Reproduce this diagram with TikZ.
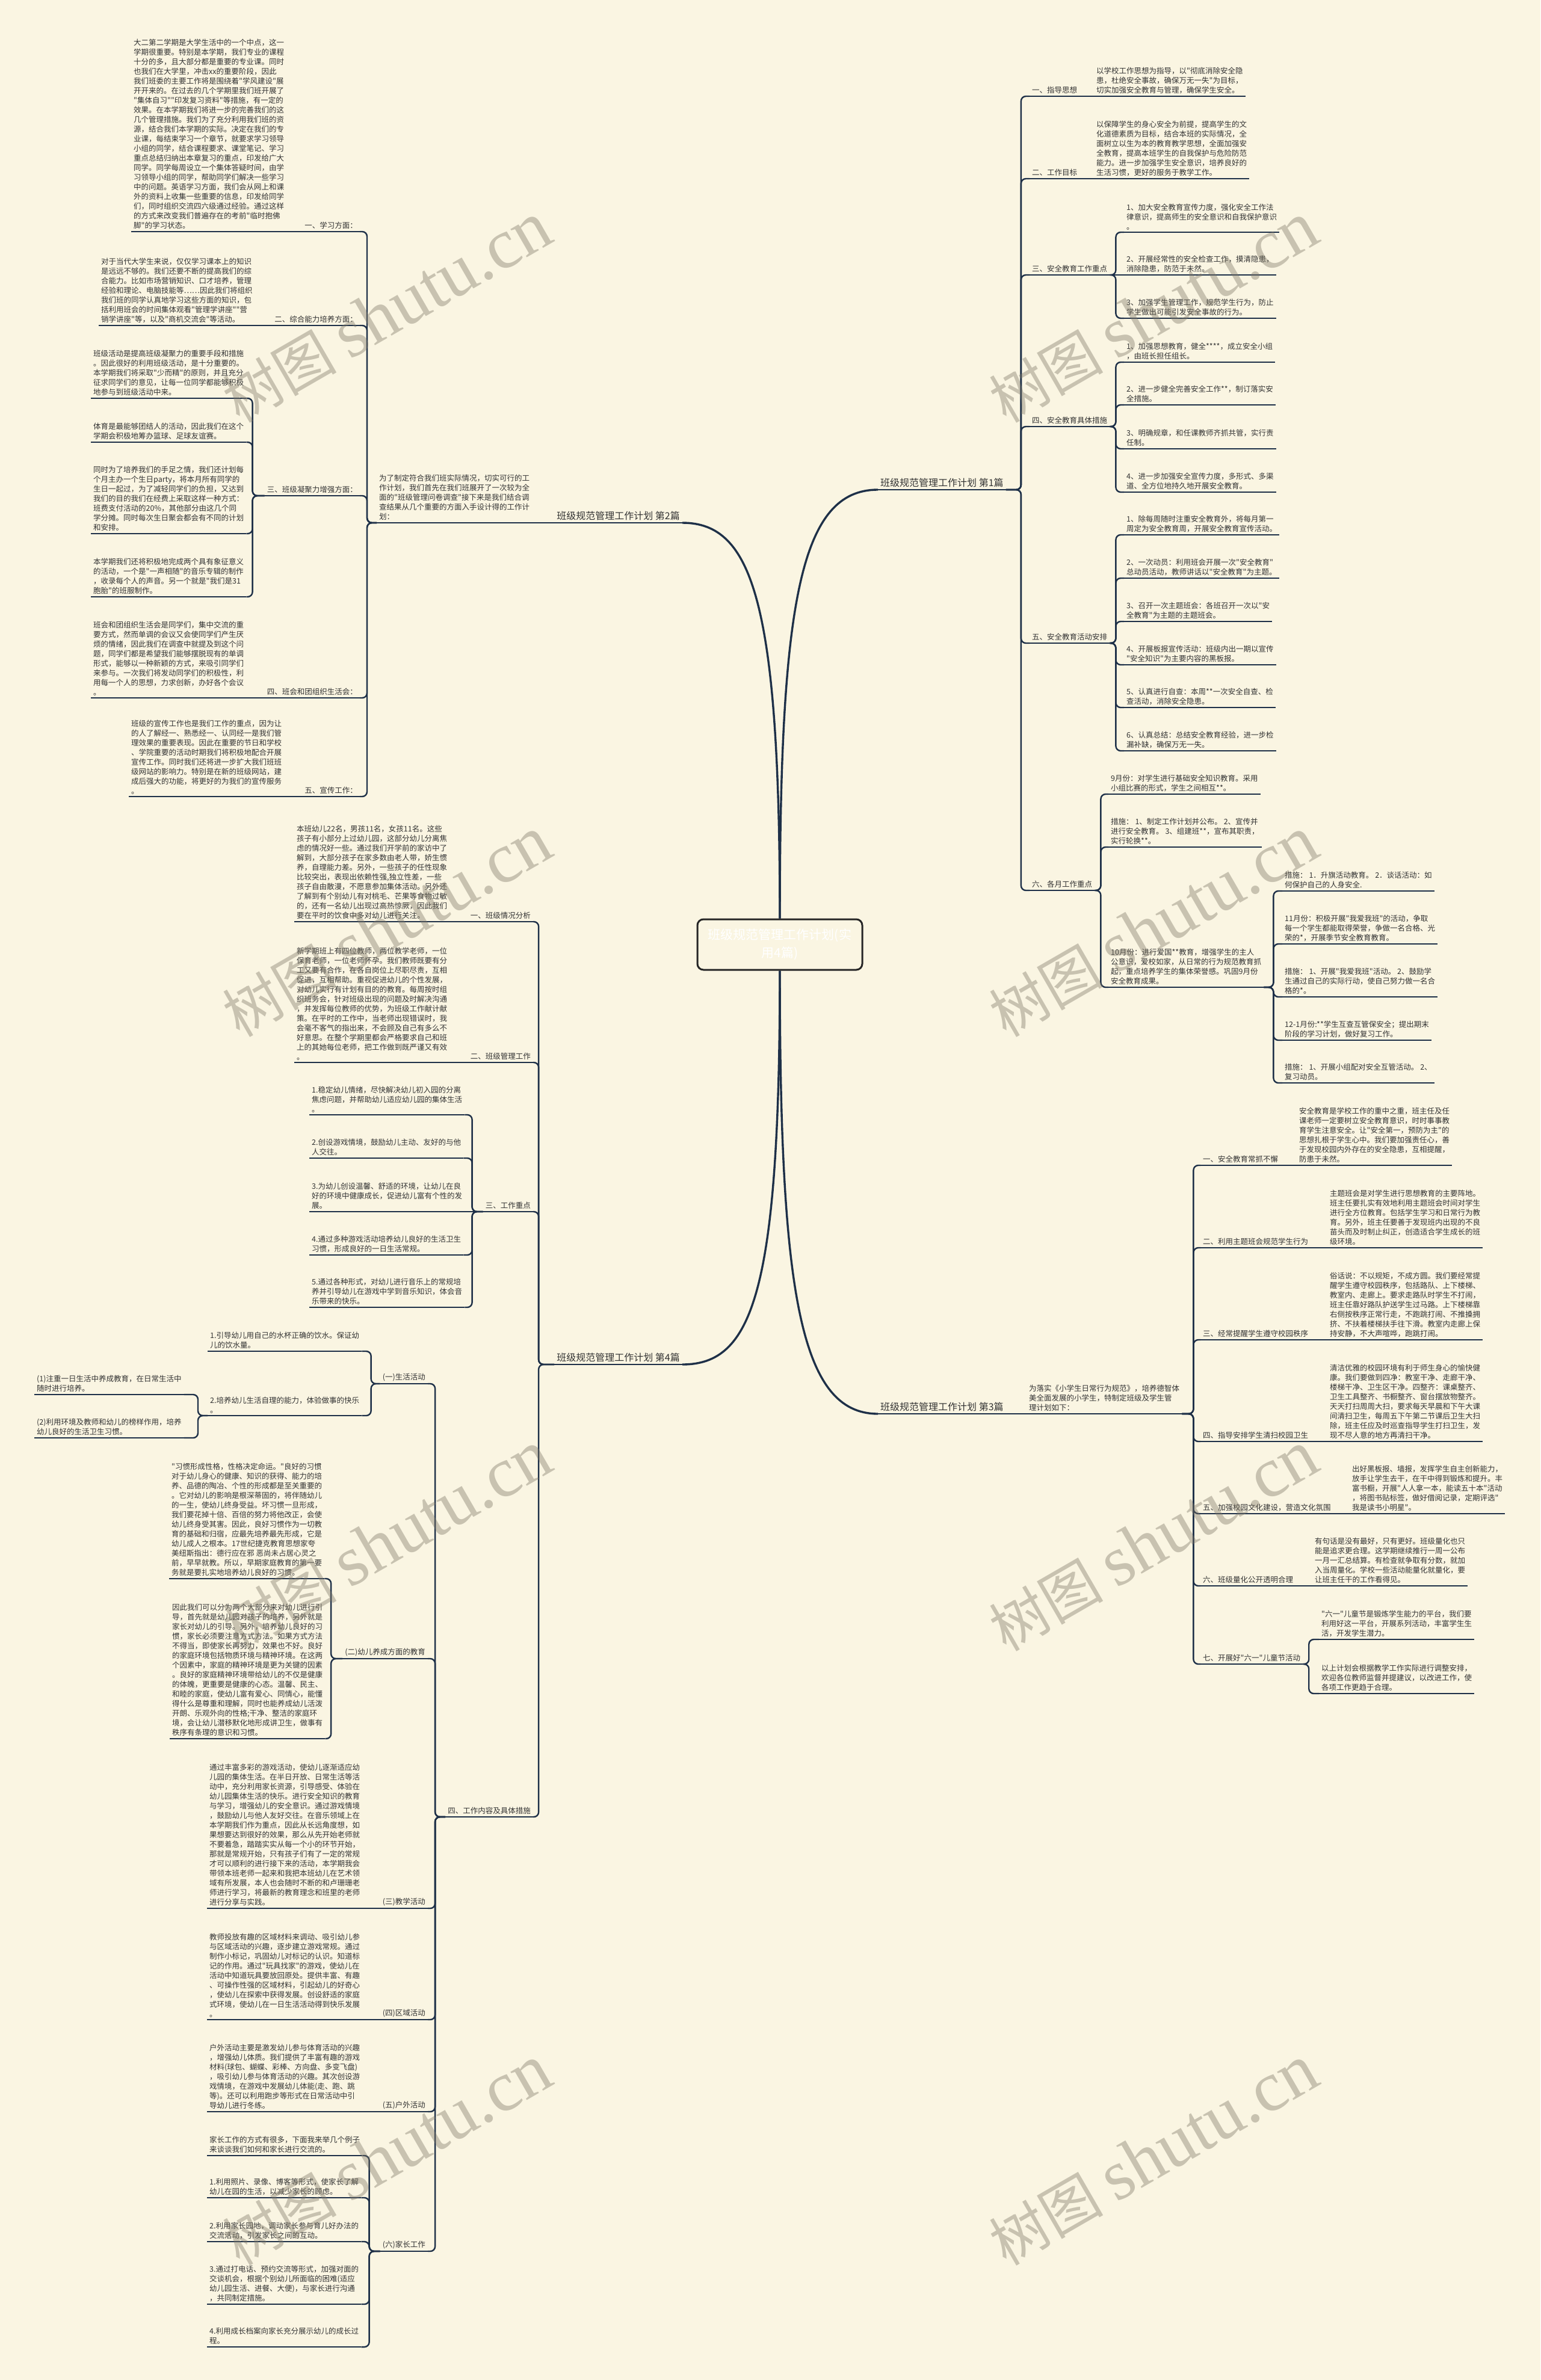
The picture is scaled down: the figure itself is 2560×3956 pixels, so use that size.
\documentclass[tikz,border=0pt]{standalone}
\usepackage{fontspec}
\setmainfont{Noto Sans CJK SC}[Ligatures=TeXOff]
\newfontfamily\wmlatin{Liberation Serif}
\definecolor{bgcream}{HTML}{FAF5E2}
\definecolor{ink}{HTML}{333333}
\definecolor{navy}{HTML}{1E3048}
\definecolor{wmgray}{HTML}{7D7766}
\newcommand\bodyfont{\fontsize{12.5}{16}\selectfont}
\tikzset{%
	blk/.style={anchor=south west, align=left, inner xsep=4pt, inner ysep=4pt, text=ink, font=\bodyfont},
	big/.style={blk, font=\fontsize{16}{20}\selectfont},
	hub/.style={draw=black!85, line width=3pt, rounded corners=10pt, fill=bgcream, text=white, align=center, font=\fontsize{21}{30}\selectfont, minimum width=274pt, minimum height=84pt},
	uline/.style={navy, line width=2.4pt},
	conn/.style={navy, line width=2.4pt, rounded corners=8pt},
	maincon/.style={navy, line width=3.4pt},
	wm/.style={rotate=30, text=wmgray, text opacity=0.4}
}

\begin{document}
\begin{tikzpicture}[x=1pt, y=-1pt]
\fill[bgcream] (0,0) rectangle (2560,3956);
\useasboundingbox (0,0) rectangle (2560,3956);

\node[hub] (main) at (1296,1570) {班级规范管理工作计划(实\\用4篇)};

% 第2篇
\node[big, anchor=south east] (p2) at (1134,869) {班级规范管理工作计划 第2篇};
\node[blk] (p2i) at (626,869) {为了制定符合我们班实际情况，切实可行的工\\作计划，我们首先在我们班展开了一次较为全\\面的"班级管理问卷调查"接下来是我们结合调\\查结果从几个重要的方面入手设计得的工作计\\划：};
\node[blk, anchor=south east] (s21) at (598,385) {一、学习方面：};
\node[blk] (t21) at (218,385) {大二第二学期是大学生活中的一个中点，这一\\学期很重要。特别是本学期，我们专业的课程\\十分的多，且大部分都是重要的专业课。同时\\也我们在大学里，冲击xx的重要阶段，因此\\我们班委的主要工作将是围绕着"学风建设"展\\开开来的。在过去的几个学期里我们班开展了\\"集体自习""印发复习资料"等措施，有一定的\\效果。在本学期我们将进一步的完善我们的这\\几个管理措施。我们为了充分利用我们班的资\\源，结合我们本学期的实际。决定在我们的专\\业课，每结束学习一个章节，就要求学习领导\\小组的同学，结合课程要求、课堂笔记、学习\\重点总结归纳出本章复习的重点，印发给广大\\同学。同学每周设立一个集体答疑时间，由学\\习领导小组的同学，帮助同学们解决一些学习\\中的问题。英语学习方面，我们会从网上和课\\外的资料上收集一些重要的信息，印发给同学\\们，同时组织交流四六级通过经验。通过这样\\的方式来改变我们普遍存在的考前"临时抱佛\\脚"的学习状态。};
\node[blk, anchor=south east] (s22) at (598,541) {二、综合能力培养方面：};
\node[blk] (t22) at (164,541) {对于当代大学生来说，仅仅学习课本上的知识\\是远远不够的。我们还要不断的提高我们的综\\合能力。比如市场营销知识、口才培养，管理\\经验和理论、电脑技能等……因此我们将组织\\我们班的同学认真地学习这些方面的知识，包\\括利用班会的时间集体观看"管理学讲座""营\\销学讲座"等，以及"商机交流会"等活动。};
\node[blk, anchor=south east] (s23) at (598,824) {三、班级凝聚力增强方面：};
\node[blk] (t231) at (151,662) {班级活动是提高班级凝聚力的重要手段和措施\\。因此很好的利用班级活动，是十分重要的。\\本学期我们将采取"少而精"的原则，并且充分\\征求同学们的意见，让每一位同学都能够积极\\地参与到班级活动中来。};
\node[blk] (t232) at (151,735) {体育是最能够团结人的活动，因此我们在这个\\学期会积极地筹办篮球、足球友谊赛。};
\node[blk] (t233) at (151,887) {同时为了培养我们的手足之情，我们还计划每\\个月主办一个生日party，将本月所有同学的\\生日一起过，为了减轻同学们的负担，又达到\\我们的目的我们在经费上采取这样一种方式：\\班费支付活动的20\%，其他部分由这几个同\\学分摊。同时每次生日聚会都会有不同的计划\\和安排。};
\node[blk] (t234) at (151,992) {本学期我们还将积极地完成两个具有象征意义\\的活动，一个是"一声相随"的音乐专辑的制作\\，收录每个人的声音。另一个就是"我们是31\\胞胎"的班服制作。};
\node[blk, anchor=south east] (s24) at (598,1160) {四、班会和团组织生活会：};
\node[blk] (t24) at (151,1160) {班会和团组织生活会是同学们，集中交流的重\\要方式，然而单调的会议又会使同学们产生厌\\烦的情绪，因此我们在调查中就提及到这个问\\题，同学们都是希望我们能够摆脱现有的单调\\形式，能够以一种新颖的方式，来吸引同学们\\来参与。一次我们将发动同学们的积极性，利\\用每一个人的思想，力求创新，办好各个会议\\。};
\node[blk, anchor=south east] (s25) at (598,1324) {五、宣传工作：};
\node[blk] (t25) at (214,1324) {班级的宣传工作也是我们工作的重点，因为让\\的人了解经一、熟悉经一、认同经一是我们管\\理效果的重要表现。因此在重要的节日和学校\\、学院重要的活动时期我们将积极地配合开展\\宣传工作。同时我们还将进一步扩大我们班班\\级网站的影响力。特别是在新的班级网站，建\\成后强大的功能，将更好的为我们的宣传服务\\。};

% 第4篇
\node[big, anchor=south east] (p4) at (1134,2268) {班级规范管理工作计划 第4篇};
\node[blk, anchor=south east] (f1) at (886,1532) {一、班级情况分析};
\node[blk] (f1t) at (489,1532) {本班幼儿22名，男孩11名，女孩11名。这些\\孩子有小部分上过幼儿园，这部分幼儿分离焦\\虑的情况好一些。通过我们开学前的家访中了\\解到，大部分孩子在家多数由老人带，娇生惯\\养，自理能力差。另外，一些孩子的任性现象\\比较突出，表现出依赖性强,独立性差，一些\\孩子自由散漫，不愿意参加集体活动。另外还\\了解到有个别幼儿有对桃毛、芒果等食物过敏\\的，还有一名幼儿出现过高热惊厥，因此我们\\要在平时的饮食中多对幼儿进行关注。};
\node[blk, anchor=south east] (f2) at (886,1766) {二、班级管理工作};
\node[blk] (f2t) at (489,1766) {新学期班上有四位教师，两位教学老师，一位\\保育老师，一位老师怀孕。我们教师既要有分\\工又要有合作，在各自岗位上尽职尽责，互相\\促进，互相帮助。重视促进幼儿的个性发展，\\对幼儿实行有计划有目的的教育。每周按时组\\织班务会，针对班级出现的问题及时解决沟通\\，并发挥每位教师的优势，为班级工作献计献\\策。在平时的工作中，当老师出现错误时，我\\会毫不客气的指出来，不会顾及自己有多么不\\好意思。在整个学期里都会严格要求自己和班\\上的其她每位老师，把工作做到既严谨又有效\\。};
\node[blk, anchor=south east] (f3) at (886,2014) {三、工作重点};
\node[blk] (f31) at (514,1853) {1.稳定幼儿情绪，尽快解决幼儿初入园的分离\\焦虑问题，并帮助幼儿适应幼儿园的集体生活\\。};
\node[blk] (f32) at (514,1925) {2.创设游戏情境，鼓励幼儿主动、友好的与他\\人交往。};
\node[blk] (f33) at (514,2014) {3.为幼儿创设温馨、舒适的环境，让幼儿在良\\好的环境中健康成长，促进幼儿富有个性的发\\展。};
\node[blk] (f34) at (514,2086) {4.通过多种游戏活动培养幼儿良好的生活卫生\\习惯，形成良好的一日生活常规。};
\node[blk] (f35) at (514,2173) {5.通过各种形式，对幼儿进行音乐上的常规培\\养并引导幼儿在游戏中学到音乐知识，体会音\\乐带来的快乐。};
\node[blk, anchor=south east] (f4) at (886,3020) {四、工作内容及具体措施};
\node[blk, anchor=south east] (g1) at (711,2300) {(一)生活活动};
\node[blk] (g11) at (345,2246) {1.引导幼儿用自己的水杯正确的饮水。保证幼\\儿的饮水量。};
\node[blk] (g12) at (345,2353) {2.培养幼儿生活自理的能力，体验做事的快乐\\。};
\node[blk] (g121) at (57,2318) {(1)注重一日生活中养成教育，在日常生活中\\随时进行培养。};
\node[blk] (g122) at (57,2390) {(2)利用环境及教师和幼儿的榜样作用，培养\\幼儿良好的生活卫生习惯。};
\node[blk, anchor=south east] (g2) at (711,2757) {(二)幼儿养成方面的教育};
\node[blk] (g21) at (281,2624) {"习惯形成性格，性格决定命运。"良好的习惯\\对于幼儿身心的健康、知识的获得、能力的培\\养、品德的陶冶、个性的形成都是至关重要的\\。它对幼儿的影响是根深蒂固的，将伴随幼儿\\的一生，使幼儿终身受益。坏习惯一旦形成，\\我们要花掉十倍、百倍的努力将他改正，会使\\幼儿终身受其害。因此，良好习惯作为一切教\\育的基础和归宿，应最先培养最先形成，它是\\幼儿成人之根本。17世纪捷克教育思想家夸\\美纽斯指出：德行应在邪 恶尚未占居心灵之\\前，早早就教。所以，早期家庭教育的第一要\\务就是要扎实地培养幼儿良好的习惯。};
\node[blk] (g22) at (282,2890) {因此我们可以分为两个大部分来对幼儿进行引\\导，首先就是幼儿园对孩子的培养，另外就是\\家长对幼儿的引导。另外，培养幼儿良好的习\\惯，家长必须要注意方式方法。如果方式方法\\不得当，即使家长再努力，效果也不好。良好\\的家庭环境包括物质环境与精神环境。在这两\\个因素中，家庭的精神环境是更为关键的因素\\。良好的家庭精神环境带给幼儿的不仅是健康\\的体魄，更重要是健康的心态。温馨、民主、\\和睦的家庭，使幼儿富有爱心、同情心，能懂\\得什么是尊重和理解，同时也能养成幼儿活泼\\开朗、乐观外向的性格;干净、整洁的家庭环\\境，会让幼儿潜移默化地形成讲卫生，做事有\\秩序有条理的意识和习惯。};
\node[blk, anchor=south east] (g3) at (711,3172) {(三)教学活动};
\node[blk] (g3t) at (344,3172) {通过丰富多彩的游戏活动，使幼儿逐渐适应幼\\儿园的集体生活。在半日开放、日常生活等活\\动中，充分利用家长资源，引导感受、体验在\\幼儿园集体生活的快乐。进行安全知识的教育\\与学习，增强幼儿的安全意识。通过游戏情境\\，鼓励幼儿与他人友好交往。在音乐领域上在\\本学期我们作为重点，因此从长远角度想，如\\果想要达到很好的效果，那么从先开始老师就\\不要着急，踏踏实实从每一个小的环节开始，\\那就是常规开始，只有孩子们有了一定的常规\\才可以顺利的进行接下来的活动，本学期我会\\带领本班老师一起来和我把本班幼儿在艺术领\\域有所发展，本人也会随时不断的和卢珊珊老\\师进行学习，将最新的教育理念和班里的老师\\进行分享与实践。};
\node[blk, anchor=south east] (g4) at (711,3357) {(四)区域活动};
\node[blk] (g4t) at (344,3357) {教师投放有趣的区域材料来调动、吸引幼儿参\\与区域活动的兴趣，逐步建立游戏常规。通过\\制作小标记，巩固幼儿对标记的认识。知道标\\记的作用。通过"玩具找家"的游戏，使幼儿在\\活动中知道玩具要放回原处。提供丰富、有趣\\、可操作性强的区域材料，引起幼儿的好奇心\\，使幼儿在探索中获得发展。创设舒适的家庭\\式环境，使幼儿在一日生活活动得到快乐发展\\。};
\node[blk, anchor=south east] (g5) at (711,3510) {(五)户外活动};
\node[blk] (g5t) at (344,3510) {户外活动主要是激发幼儿参与体育活动的兴趣\\，增强幼儿体质。我们提供了丰富有趣的游戏\\材料(球包、蝴蝶、彩棒、方向盘、多变飞盘)\\，吸引幼儿参与体育活动的兴趣。其次创设游\\戏情境，在游戏中发展幼儿体能(走、跑、跳\\等)。还可以利用跑步等形式在日常活动中引\\导幼儿进行冬练。};
\node[blk, anchor=south east] (g6) at (711,3742) {(六)家长工作};
\node[blk] (g61) at (344,3583) {家长工作的方式有很多，下面我来举几个例子\\来谈谈我们如何和家长进行交流的。};
\node[blk] (g62) at (344,3653) {1.利用照片、录像、博客等形式，使家长了解\\幼儿在园的生活，以减少家长的顾虑。};
\node[blk] (g63) at (344,3726) {2.利用家长园地，调动家长参与育儿好办法的\\交流活动，引发家长之间的互动。};
\node[blk] (g64) at (344,3830) {3.通过打电话、预约交流等形式，加强对面的\\交谈机会，根据个别幼儿所面临的困难(适应\\幼儿园生活、进餐、大便)，与家长进行沟通\\，共同制定措施。};
\node[blk] (g65) at (344,3901) {4.利用成长档案向家长充分展示幼儿的成长过\\程。};

% 第1篇
\node[big] (p1) at (1459,814) {班级规范管理工作计划 第1篇};
\node[blk] (r1) at (1711,160) {一、指导思想};
\node[blk] (r1t) at (1818,160) {以学校工作思想为指导，以"彻底消除安全隐\\患，杜绝安全事故，确保万无一失"为目标，\\切实加强安全教育与管理，确保学生安全。};
\node[blk] (r2) at (1711,297) {二、工作目标};
\node[blk] (r2t) at (1818,297) {以保障学生的身心安全为前提，提高学生的文\\化道德素质为目标，结合本班的实际情况，全\\面树立以生为本的教育教学思想，全面加强安\\全教育，提高本班学生的自我保护与危险防范\\能力。进一步加强学生安全意识，培养良好的\\生活习惯，更好的服务于教学工作。};
\node[blk] (r3) at (1711,457) {三、安全教育工作重点};
\node[blk] (r31) at (1868,386) {1、加大安全教育宣传力度，强化安全工作法\\律意识，提高师生的安全意识和自我保护意识\\。};
\node[blk] (r32) at (1868,457) {2、开展经常性的安全检查工作，摸清隐患，\\消除隐患，防范于未然。};
\node[blk] (r33) at (1868,529) {3、加强学生管理工作，规范学生行为，防止\\学生做出可能引发安全事故的行为。};
\node[blk] (r4) at (1711,709) {四、安全教育具体措施};
\node[blk] (r41) at (1868,602) {1、加强思想教育，健全****，成立安全小组\\，由班长担任组长。};
\node[blk] (r42) at (1868,673) {2、进一步健全完善安全工作**，制订落实安\\全措施。};
\node[blk] (r43) at (1868,746) {3、明确规章，和任课教师齐抓共管，实行责\\任制。};
\node[blk] (r44) at (1868,818) {4、进一步加强安全宣传力度，多形式、多渠\\道、全方位地持久地开展安全教育。};
\node[blk] (r5) at (1711,1069) {五、安全教育活动安排};
\node[blk] (r51) at (1868,889) {1、除每周随时注重安全教育外，将每月第一\\周定为安全教育周，开展安全教育宣传活动。};
\node[blk] (r52) at (1868,961) {2、一次动员：利用班会开展一次"安全教育"\\总动员活动，教师讲话以"安全教育"为主题。};
\node[blk] (r53) at (1868,1033) {3、召开一次主题班会：各班召开一次以"安\\全教育"为主题的主题班会。};
\node[blk] (r54) at (1868,1105) {4、开展板报宣传活动：班级内出一期以宣传\\"安全知识"为主要内容的黑板报。};
\node[blk] (r55) at (1868,1176) {5、认真进行自查：本周**一次安全自查、检\\查活动，消除安全隐患。};
\node[blk] (r56) at (1868,1248) {6、认真总结：总结安全教育经验，进一步检\\漏补缺，确保万无一失。};
\node[blk] (r6) at (1711,1480) {六、各月工作重点};
\node[blk] (r61) at (1842,1320) {9月份：对学生进行基础安全知识教育。采用\\小组比赛的形式，学生之间相互**。};
\node[blk] (r62) at (1842,1408) {措施： 1、制定工作计划并公布。 2、宣传并\\进行安全教育。 3、组建班**，宣布其职责，\\实行轮换**。};
\node[blk] (r63) at (1842,1641) {10月份：进行爱国**教育，增强学生的主人\\公意识，爱校如家，从日常的行为规范教育抓\\起，重点培养学生的集体荣誉感。巩固9月份\\安全教育成果。};
\node[blk] (r631) at (2131,1481) {措施： 1．升旗活动教育。 2．谈话活动：如\\何保护自己的人身安全.};
\node[blk] (r632) at (2131,1569) {11月份：积极开展"我爱我班"的活动，争取\\每一个学生都能取得荣誉，争做一名合格、光\\荣的*，开展季节安全教育教育。};
\node[blk] (r633) at (2131,1657) {措施： 1、开展"我爱我班"活动。 2、鼓励学\\生通过自己的实际行动，使自己努力做一名合\\格的*。};
\node[blk] (r634) at (2131,1729) {12-1月份:**学生互查互管保安全；提出期末\\阶段的学习计划，做好复习工作。};
\node[blk] (r635) at (2131,1800) {措施： 1、开展小组配对安全互管活动。 2、\\复习动员。};

% 第3篇
\node[big] (p3) at (1459,2350) {班级规范管理工作计划 第3篇};
\node[blk] (p3i) at (1706,2350) {为落实《小学生日常行为规范》，培养德智体\\美全面发展的小学生，特制定班级及学生管\\理计划如下：};
\node[blk] (q1) at (1995,1937) {一、安全教育常抓不懈};
\node[blk] (q1t) at (2155,1937) {安全教育是学校工作的重中之重，班主任及任\\课老师一定要树立安全教育意识，时时事事教\\育学生注意安全。让"安全第一，预防为主"的\\思想扎根于学生心中。我们要加强责任心，善\\于发现校园内外存在的安全隐患，互相提醒，\\防患于未然。};
\node[blk] (q2) at (1995,2074) {二、利用主题班会规范学生行为};
\node[blk] (q2t) at (2206,2074) {主题班会是对学生进行思想教育的主要阵地。\\班主任要扎实有效地利用主题班会时间对学生\\进行全方位教育。包括学生学习和日常行为教\\育。另外，班主任要善于发现班内出现的不良\\苗头而及时制止纠正，创造适合学生成长的班\\级环境。};
\node[blk] (q3) at (1995,2227) {三、经常提醒学生遵守校园秩序};
\node[blk] (q3t) at (2206,2227) {俗话说：不以规矩，不成方圆。我们要经常提\\醒学生遵守校园秩序，包括路队、上下楼梯、\\教室内、走廊上。要求走路队时学生不打闹，\\班主任靠好路队护送学生过马路。上下楼梯靠\\右侧按秩序正常行走，不跑跳打闹、不推搡拥\\挤、不扶着楼梯扶手往下滑。教室内走廊上保\\持安静，不大声喧哗，跑跳打闹。};
\node[blk] (q4) at (1995,2396) {四、指导安排学生清扫校园卫生};
\node[blk] (q4t) at (2206,2396) {清洁优雅的校园环境有利于师生身心的愉快健\\康。我们要做到四净：教室干净、走廊干净、\\楼梯干净、卫生区干净。四整齐：课桌整齐、\\卫生工具整齐、书橱整齐、窗台摆放物整齐。\\天天打扫周周大扫，要求每天早晨和下午大课\\间清扫卫生，每周五下午第二节课后卫生大扫\\除，班主任应及时巡查指导学生打扫卫生，发\\现不尽人意的地方再清扫干净。};
\node[blk] (q5) at (1995,2516) {五、加强校园文化建设，营造文化氛围};
\node[blk] (q5t) at (2243,2516) {出好黑板报、墙报，发挥学生自主创新能力，\\放手让学生去干，在干中得到锻炼和提升。丰\\富书橱，开展"人人拿一本，能读五十本"活动\\，将图书贴标签，做好借阅记录，定期评选"\\我是读书小明星"。};
\node[blk] (q6) at (1995,2636) {六、班级量化公开透明合理};
\node[blk] (q6t) at (2181,2636) {有句话是没有最好，只有更好。班级量化也只\\能是追求更合理。这学期继续推行一周一公布\\一月一汇总结算。有检查就争取有分数，就加\\入当周量化。学校一些活动能量化就量化，要\\让班主任干的工作看得见。};
\node[blk] (q7) at (1995,2766) {七、开展好"六一"儿童节活动};
\node[blk] (q71) at (2192,2725) {"六一"儿童节是锻炼学生能力的平台，我们要\\利用好这一平台，开展系列活动，丰富学生生\\活，开发学生潜力。};
\node[blk] (q72) at (2192,2815) {以上计划会根据教学工作实际进行调整安排，\\欢迎各位教师监督并提建议，以改进工作，使\\各项工作更趋于合理。};

% underlines
\foreach \n in {p1,p2,p3,p4,p2i,p3i,s21,s22,s23,s24,s25,t21,t22,t231,t232,t233,t234,t24,t25,
	f1,f2,f3,f4,f1t,f2t,f31,f32,f33,f34,f35,g1,g2,g3,g4,g5,g6,g11,g12,g121,g122,g21,g22,g3t,g4t,g5t,g61,g62,g63,g64,g65,
	r1,r2,r3,r4,r5,r6,r1t,r2t,r31,r32,r33,r41,r42,r43,r44,r51,r52,r53,r54,r55,r56,r61,r62,r63,r631,r632,r633,r634,r635,
	q1,q2,q3,q4,q5,q6,q7,q1t,q2t,q3t,q4t,q5t,q6t,q71,q72}
	\draw[uline] (\n.south west) -- (\n.south east);

% trunk
\draw[maincon] (main.north) .. controls (1296,1000) and (1330,814) .. (p1.south west);
\draw[maincon] (main.north) .. controls (1296,1000) and (1250,869) .. (p2.south east);
\draw[maincon] (main.south) .. controls (1296,2150) and (1330,2350) .. (p3.south west);
\draw[maincon] (main.south) .. controls (1296,2150) and (1250,2268) .. (p4.south east);

% left side
\draw[conn] (p2.south west) -- (p2i.south east);
\foreach \c in {s21,s22,s23,s24,s25} \draw[conn] (p2i.south west) -- ++(-16,0) |- (\c.south east);
\foreach \a/\b in {s21/t21,s22/t22,s24/t24,s25/t25} \draw[conn] (\a.south west) -- (\b.south east);
\foreach \c in {t231,t232,t233,t234} \draw[conn] (s23.south west) -- ++(-20,0) |- (\c.south east);
\foreach \c in {f1,f2,f3,f4} \draw[conn] (p4.south west) -- ++(-26,0) |- (\c.south east);
\foreach \a/\b in {f1/f1t,f2/f2t,f3/f33,g3/g3t,g4/g4t,g5/g5t} \draw[conn] (\a.south west) -- (\b.south east);
\foreach \c in {f31,f32,f34,f35} \draw[conn] (f3.south west) -- ++(-18,0) |- (\c.south east);
\foreach \c in {g1,g2,g3,g4,g5,g6} \draw[conn] (f4.south west) -- ++(-17,0) |- (\c.south east);
\foreach \c in {g11,g12} \draw[conn] (g1.south west) -- ++(-15,0) |- (\c.south east);
\foreach \c in {g121,g122} \draw[conn] (g12.south west) -- ++(-16,0) |- (\c.south east);
\foreach \c in {g21,g22} \draw[conn] (g2.south west) -- ++(-19,0) |- (\c.south east);
\foreach \c in {g61,g62,g63,g64,g65} \draw[conn] (g6.south west) -- ++(-18,0) |- (\c.south east);

% right side
\foreach \c in {r1,r2,r3,r4,r5,r6} \draw[conn] (p1.south east) -- ++(25,0) |- (\c.south west);
\foreach \a/\b in {r1/r1t,r2/r2t,r3/r32,p3/p3i,q1/q1t,q2/q2t,q3/q3t,q4/q4t,q5/q5t,q6/q6t} \draw[conn] (\a.south east) -- (\b.south west);
\foreach \c in {r31,r33} \draw[conn] (r3.south east) -- ++(10,0) |- (\c.south west);
\foreach \c in {r41,r42,r43,r44} \draw[conn] (r4.south east) -- ++(10,0) |- (\c.south west);
\foreach \c in {r51,r52,r53,r54,r55,r56} \draw[conn] (r5.south east) -- ++(10,0) |- (\c.south west);
\foreach \c in {r61,r62,r63} \draw[conn] (r6.south east) -- ++(10,0) |- (\c.south west);
\foreach \c in {r631,r632,r633,r634,r635} \draw[conn] (r63.south east) -- ++(16,0) |- (\c.south west);
\foreach \c in {q1,q2,q3,q4,q5,q6,q7} \draw[conn] (p3i.south east) -- ++(19,0) |- (\c.south west);
\foreach \c in {q71,q72} \draw[conn] (q7.south east) -- ++(10,0) |- (\c.south west);

% watermark
\foreach \wx in {643,1917}
	\foreach \wy in {520,1541,2562,3583}
		\node[wm] (wm-\wx-\wy) at (\wx,\wy) {\fontsize{95}{95}\selectfont 树图 {\wmlatin\fontsize{118}{118}\selectfont shutu.cn}};
\end{tikzpicture}
\end{document}
